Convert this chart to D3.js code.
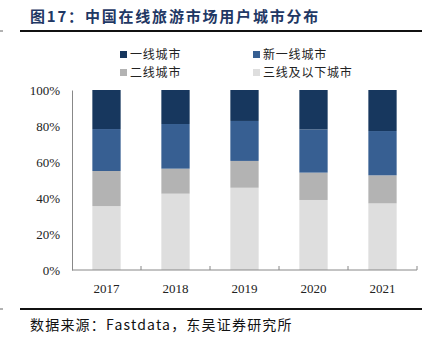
<!DOCTYPE html>
<html>
<head>
<meta charset="utf-8">
<script src="https://cdn.jsdelivr.net/npm/d3@7"></script>
<style>
  body { margin: 0; background: #fff; }
  svg { display: block; }
</style>
</head>
<body>
<svg width="427" height="345"></svg>
<script>
// chart data
var years = ["2017", "2018", "2019", "2020", "2021"];
var seriesNames = ["三线及以下城市", "二线城市", "新一线城市", "一线城市"];
var tier3 = [35.5, 42.4, 45.7, 38.9, 37.0];
var tier2 = [19.5, 13.9, 14.9, 15.2, 15.6];
var newTier1 = [23.3, 24.8, 22.2, 24.0, 24.6];
var tier1 = [21.7, 18.9, 17.2, 21.9, 22.8];
var yTicks = [0, 20, 40, 60, 80, 100];
var colors = ["#dedede", "#b3b3b3", "#375f92", "#17375e"];

var svg = d3.select("svg");
var serif = "'Liberation Serif', 'Noto Sans CJK SC', serif";
var cjk = "'Noto Sans CJK SC', sans-serif";

// title and rules
svg.append("text")
  .attr("x", 30).attr("y", 22)
  .attr("fill", "#1f3864")
  .style("font-family", cjk)
  .style("font-size", "15px")
  .style("font-weight", "bold")
  .style("letter-spacing", "1.8px")
  .text("图17：中国在线旅游市场用户城市分布");

svg.append("line").attr("x1", 20).attr("x2", 422).attr("y1", 31).attr("y2", 31)
  .attr("stroke", "#111").attr("stroke-width", 2);
svg.append("line").attr("x1", 0).attr("x2", 3).attr("y1", 31).attr("y2", 31)
  .attr("stroke", "#666").attr("stroke-width", 1);
svg.append("line").attr("x1", 20).attr("x2", 422).attr("y1", 309).attr("y2", 309)
  .attr("stroke", "#111").attr("stroke-width", 2);
svg.append("line").attr("x1", 0).attr("x2", 3).attr("y1", 309).attr("y2", 309)
  .attr("stroke", "#666").attr("stroke-width", 1);

svg.append("text")
  .attr("x", 30).attr("y", 330)
  .attr("fill", "#111")
  .style("font-family", cjk)
  .style("font-size", "14px")
  .style("letter-spacing", "1.2px")
  .text("数据来源：Fastdata，东吴证券研究所");

// legend
var legendItems = [
  { name: "一线城市", color: colors[3], x: 120, y: 51 },
  { name: "新一线城市", color: colors[2], x: 253, y: 51 },
  { name: "二线城市", color: colors[1], x: 120, y: 69 },
  { name: "三线及以下城市", color: colors[0], x: 253, y: 69 }
];
var lg = svg.append("g").selectAll("g").data(legendItems).enter().append("g")
  .attr("transform", d => "translate(" + d.x + "," + d.y + ")");
lg.append("rect").attr("width", 7).attr("height", 7).attr("fill", d => d.color);
lg.append("text").attr("x", 10).attr("y", 7.5)
  .style("font-family", cjk).style("font-size", "12px").style("letter-spacing", "0.8px")
  .attr("fill", "#222")
  .text(d => d.name);

// plot area
var margin = { left: 72, top: 90 };
var width = 345, height = 180;
var g = svg.append("g").attr("transform", "translate(" + margin.left + "," + margin.top + ")");

var x = d3.scaleBand().domain(years).range([0, width]).paddingInner(0.59).paddingOuter(0.295);
var xTick = d3.scaleBand().domain(years).range([0, width]);
var y = d3.scaleLinear().domain([0, 100]).range([height, 0]);

var table = years.map((yr, i) => ({
  year: yr,
  "三线及以下城市": tier3[i],
  "二线城市": tier2[i],
  "新一线城市": newTier1[i],
  "一线城市": tier1[i]
}));
var stacked = d3.stack().keys(seriesNames)(table);

g.selectAll(".series").data(stacked).enter().append("g")
  .attr("fill", (d, i) => colors[i])
  .selectAll("rect").data(d => d).enter().append("rect")
  .attr("x", d => x(d.data.year))
  .attr("width", x.bandwidth())
  .attr("y", d => y(d[1]))
  .attr("height", d => y(d[0]) - y(d[1]));

// axes
var yAxis = g.append("g").call(d3.axisLeft(y).tickValues(yTicks).tickFormat(d => d + "%").tickSize(0).tickPadding(12));
yAxis.select(".domain").attr("stroke", "#888");
yAxis.selectAll("text").style("font-family", serif).style("font-size", "13px").attr("fill", "#222");

var xAxis = g.append("g").attr("transform", "translate(0," + height + ")");
xAxis.append("line").attr("x1", 0).attr("x2", width).attr("stroke", "#888");
xAxis.selectAll(".tk").data(years.map(d => xTick(d) + xTick.bandwidth())).enter().append("line")
  .attr("x1", d => d).attr("x2", d => d).attr("y1", 0).attr("y2", -4).attr("stroke", "#888");
xAxis.append("line").attr("x1", 0.5).attr("x2", 0.5).attr("y1", 0).attr("y2", -4).attr("stroke", "#888");
xAxis.selectAll(".lbl").data(years).enter().append("text")
  .attr("x", d => xTick(d) + xTick.bandwidth() / 2)
  .attr("y", 23)
  .attr("text-anchor", "middle")
  .style("font-family", serif).style("font-size", "13px").attr("fill", "#222")
  .text(d => d);
</script>
</body>
</html>
